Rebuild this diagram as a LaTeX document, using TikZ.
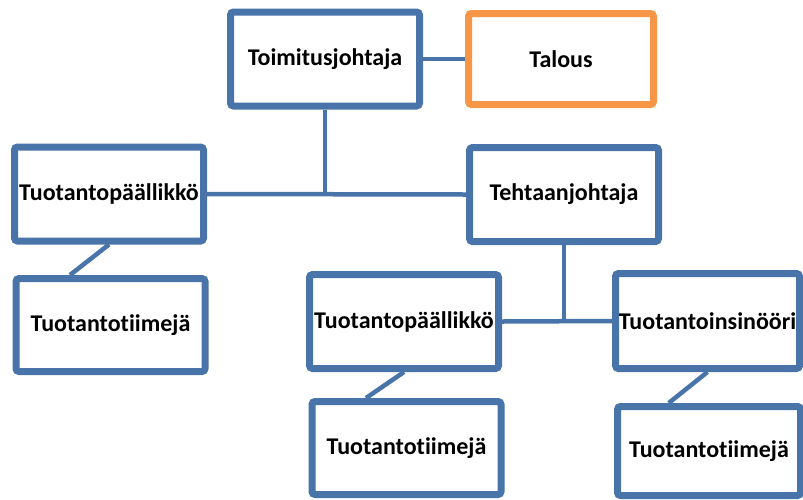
\documentclass[tikz,border=0pt]{standalone}
\usepackage{fontspec}
\setmainfont[Ligatures=NoCommon]{Carlito}
\usetikzlibrary{shadows,backgrounds}
\definecolor{boxblue}{RGB}{72,116,170}
\definecolor{boxorange}{RGB}{247,150,70}
\newcommand{\orgfont}{\fontsize{24}{28}\selectfont\bfseries}
\begin{document}
\begin{tikzpicture}[x=1pt, y=-1pt, every node/.style={font=\orgfont},
  box/.style={draw=boxblue, line width=7pt, rounded corners=3pt, fill=white,
    minimum width=189pt, minimum height=94pt, inner sep=0pt,
    drop shadow={opacity=0.25, shadow xshift=1.5pt, shadow yshift=-2.5pt}},
  link/.style={draw=boxblue, line width=4.5pt}]
\useasboundingbox (0,0) rectangle (803,499);
% Top row: the managing director and finance
\node[box] (toim) at (325,59) {Toimitusjohtaja};
\node[box, draw=boxorange, minimum width=185pt, minimum height=91pt] (talous) at (561,59) {Talous};
% Second row
\node[box] (tpl) at (109,194) {Tuotantopäällikkö};
\node[box] (tehdas) at (564,194.5) {Tehtaanjohtaja};
\node[box, minimum height=93pt] (ttl) at (110.5,325) {Tuotantotiimejä};
% Under the plant manager
\node[box] (tpm) at (404,321.5) {Tuotantopäällikkö};
\node[box, minimum width=184pt, minimum height=95pt] (tins) at (707.5,321) {Tuotantoinsinööri};
\node[box, minimum height=93pt] (ttm) at (406.5,448) {Tuotantotiimejä};
\node[box, minimum width=183pt, minimum height=89pt] (ttr) at (709,451) {Tuotantotiimejä};
% Connectors, kept behind the boxes
\begin{scope}[on background layer]
\draw[link] (toim.east) -- (talous.west);
\coordinate (j1) at (toim.south |- tpl.east);
\draw[link] (toim.south) -- (j1);
\draw[link] (tpl.east) -- (tehdas.west);
\coordinate (j2) at (tehdas.south |- tpm.east);
\draw[link] (tehdas.south) -- (j2);
\draw[link] (tpm.east) -- (tins.west);
\draw[link] (tpl.south) -- (ttl.129);
\draw[link] (tpm.south) -- (ttm.129);
\draw[link] (tins.south) -- (ttr.130);
\end{scope}
\end{tikzpicture}
\end{document}
